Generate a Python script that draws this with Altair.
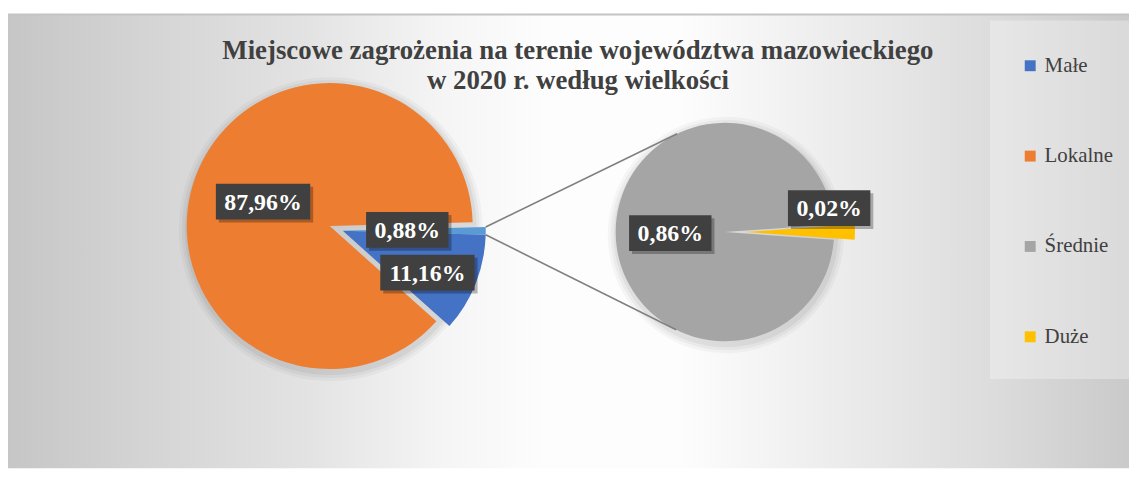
import math
import altair as alt
import pandas as pd

# ---------------- data ----------------
title_lines = ["Miejscowe zagrożenia na terenie województwa mazowieckiego",
               "w 2020 r. według wielkości"]
categories = ["Małe", "Lokalne", "Średnie", "Duże"]
shares = [11.16, 87.96, 0.86, 0.02]
colors = ["#4472C4", "#ED7D31", "#A5A5A5", "#FFC000"]
other_name = "Pozostałe"
other_color = "#5B9BD5"

main_names = [other_name, "Małe", "Lokalne"]   # first pie, clockwise from 3 o'clock
sec_names = ["Duże", "Średnie"]                 # second pie
val = dict(zip(categories, shares))
val[other_name] = round(val["Średnie"] + val["Duże"], 2)


def fmt(v):
    return f"{v:.2f}%".replace(".", ",")


# ---------------- layout ----------------
W, H = 1129, 462
TOP = 5
L_CX, L_CY, L_R, L_EXP = 324, 218, 144, 14
R_CX, R_CY, R_R, R_EXP = 722, 224, 110, 21
FONT = "'Times New Roman', 'Liberation Serif', serif"


def direction(t):
    return math.sin(t), -math.cos(t)


def build(names):
    total = sum(val[n] for n in names)
    a0 = math.pi / 2 - (val[names[0]] / total) * math.pi
    rows, c = [], 0.0
    for n in names:
        v0, v1 = c, c + val[n]
        c = v1
        t0 = a0 + v0 / total * 2 * math.pi
        t1 = a0 + v1 / total * 2 * math.pi
        rows.append(dict(name=n, value=val[n], v0=v0, v1=v1, t0=t0, t1=t1,
                         tm=(t0 + t1) / 2, label=fmt(val[n])))
    return pd.DataFrame(rows), total, a0


ldf, ltot, la0 = build(main_names)
rdf, rtot, ra0 = build(sec_names)

# explode offsets
l_exp_names = [other_name, "Małe"]
tg = (ldf.loc[ldf.name == other_name, "t0"].iloc[0] + ldf.loc[ldf.name == "Małe", "t1"].iloc[0]) / 2
ldx, ldy = [L_EXP * d for d in direction(tg)]
r_exp_names = ["Duże"]
tr = rdf.loc[rdf.name == "Duże", "tm"].iloc[0]
rdx, rdy = [R_EXP * d for d in direction(tr)]

color_enc = alt.Color(
    "name:N",
    scale=alt.Scale(domain=categories + [other_name], range=colors + [other_color]),
    legend=alt.Legend(
        title=None, orient="none", legendX=1019, legendY=46, direction="vertical",
        values=categories, symbolType="square", symbolSize=121, symbolStrokeWidth=0,
        labelFont=FONT, labelFontSize=21, labelColor="#404040", labelOffset=4,
        rowPadding=69, padding=0, labelLimit=200,
    ),
)


def arcs(df, total, a0, cx, cy, r, colored=True, **kw):
    ch = alt.Chart(df).mark_arc(radius=r, strokeWidth=0, **kw).encode(
        x=alt.value(cx), y=alt.value(cy),
        theta=alt.Theta("v0:Q", scale=alt.Scale(domain=[0, total], range=[a0, a0 + 2 * math.pi])),
        theta2=alt.Theta2("v1:Q"),
    )
    if colored:
        ch = ch.encode(color=color_enc)
    return ch


def pie(df, total, a0, cx, cy, r, exp_names, dx, dy):
    base = df[~df.name.isin(exp_names)]
    expl = df[df.name.isin(exp_names)]
    layers = []
    for k, op in [(9, 0.03), (6, 0.04), (3, 0.05)]:
        layers.append(arcs(df, total, a0, cx + 1, cy + 3, r + k, colored=False, fill="black", opacity=op))
    layers.append(arcs(base, total, a0, cx, cy, r))
    layers.append(arcs(expl, total, a0, cx + dx, cy + dy, r))
    return alt.layer(*layers)


left_pie = pie(ldf, ltot, la0, L_CX, L_CY, L_R, l_exp_names, ldx, ldy)
right_pie = pie(rdf, rtot, ra0, R_CX, R_CY, R_R, r_exp_names, rdx, rdy)

# connector lines: from corners of the "other" slice to tangents of second pie
orow = ldf[ldf.name == other_name].iloc[0]
ocx, ocy = L_CX + ldx, L_CY + ldy
lines = []
for t in [orow.t0, orow.t1]:
    sx, sy = direction(t)
    px, py = ocx + L_R * sx, ocy + L_R * sy
    d = math.hypot(R_CX - px, R_CY - py)
    base_ang = math.atan2(px - R_CX, -(py - R_CY))  # theta of P seen from right centre
    off = math.acos(R_R / d)
    phi = base_ang + off if t == orow.t0 else base_ang - off
    qx, qy = direction(phi)
    lines.append(dict(x=px, y=py, x2=R_CX + R_R * qx, y2=R_CY + R_R * qy))
lines_df = pd.DataFrame(lines)

# data labels
lab_radius = {"Lokalne": 71.5, "Małe": 95, other_name: 65, "Średnie": 55, "Duże": 84}
lab_nudge = {"Lokalne": (0, 0), "Małe": (-3, 7), other_name: (0, -1), "Średnie": (0, 1), "Duże": (0, -24)}
cw = {",": 0.25, "%": 1.0}
lab_rows = []
for df, cx, cy, exp_names, dx, dy in [(ldf, L_CX, L_CY, l_exp_names, ldx, ldy),
                                      (rdf, R_CX, R_CY, r_exp_names, rdx, rdy)]:
    for _, row in df.iterrows():
        ox, oy = (dx, dy) if row["name"] in exp_names else (0, 0)
        sx, sy = direction(row.tm)
        rr = lab_radius[row["name"]]
        nx, ny = lab_nudge[row["name"]]
        lx = cx + ox + rr * sx + nx
        ly = cy + oy + rr * sy + ny
        tw = sum(cw.get(ch, 0.5) for ch in row.label) * 24
        bw, bh = tw + 17, 36
        lab_rows.append(dict(label=row.label, lx=lx, ly=ly,
                             bx0=lx - bw / 2, bx1=lx + bw / 2, by0=ly - bh / 2, by1=ly + bh / 2))
lab_df = pd.DataFrame(lab_rows)
for k in ["bx0", "bx1", "by0", "by1"]:
    lab_df[k + "s"] = lab_df[k] + 3

one = pd.DataFrame({"a": [0]})

bg = alt.Chart(one).mark_rect(fill={
    "gradient": "linear", "x1": 0, "y1": 0, "x2": 1, "y2": 0,
    "stops": [
        {"offset": 0.0, "color": "#c6c6c6"},
        {"offset": 0.13, "color": "#d5d5d5"},
        {"offset": 0.26, "color": "#e2e2e2"},
        {"offset": 0.39, "color": "#f5f5f5"},
        {"offset": 0.48, "color": "#fdfdfd"},
        {"offset": 0.60, "color": "#fdfdfd"},
        {"offset": 0.74, "color": "#ececec"},
        {"offset": 0.88, "color": "#dcdcdc"},
        {"offset": 1.0, "color": "#cacaca"},
    ]}).encode(x=alt.value(0), x2=alt.value(W), y=alt.value(TOP), y2=alt.value(H))

top_border = alt.Chart(one).mark_rule(color="#c4c4c4", strokeWidth=2).encode(
    x=alt.value(0), x2=alt.value(W), y=alt.value(TOP))

legend_box = alt.Chart(one).mark_rect(fill="white", opacity=0.3).encode(
    x=alt.value(989), x2=alt.value(W), y=alt.value(11), y2=alt.value(372))

conn = alt.Chart(lines_df).mark_rule(color="#7f7f7f", strokeWidth=1.6).encode(
    x=alt.X("x:Q", scale=None), y=alt.Y("y:Q", scale=None),
    x2="x2:Q", y2="y2:Q")

box_shadow = alt.Chart(lab_df).mark_rect(fill="black", opacity=0.28).encode(
    x=alt.X("bx0s:Q", scale=None), x2="bx1s:Q",
    y=alt.Y("by0s:Q", scale=None), y2="by1s:Q")
boxes = alt.Chart(lab_df).mark_rect(fill="#404040").encode(
    x=alt.X("bx0:Q", scale=None), x2="bx1:Q",
    y=alt.Y("by0:Q", scale=None), y2="by1:Q")
texts = alt.Chart(lab_df).mark_text(
    font=FONT, fontWeight="bold", fontSize=24, color="white",
    align="center", baseline="middle", dy=1).encode(
    x=alt.X("lx:Q", scale=None), y=alt.Y("ly:Q", scale=None), text="label:N")

title = alt.Chart(one).mark_text(
    text=title_lines, font=FONT, fontWeight="bold", fontSize=27, color="#404040",
    align="center", baseline="alphabetic", lineHeight=30).encode(
    x=alt.value(574), y=alt.value(50))

chart = alt.layer(
    bg, top_border, legend_box, left_pie, right_pie, conn, box_shadow, boxes, texts, title
).resolve_scale(theta="independent").properties(
    width=W, height=H, padding=0, autosize="none", background="white"
).configure_view(strokeWidth=0)

chart.save("out.html", embed_options={"renderer": "svg", "actions": False})
